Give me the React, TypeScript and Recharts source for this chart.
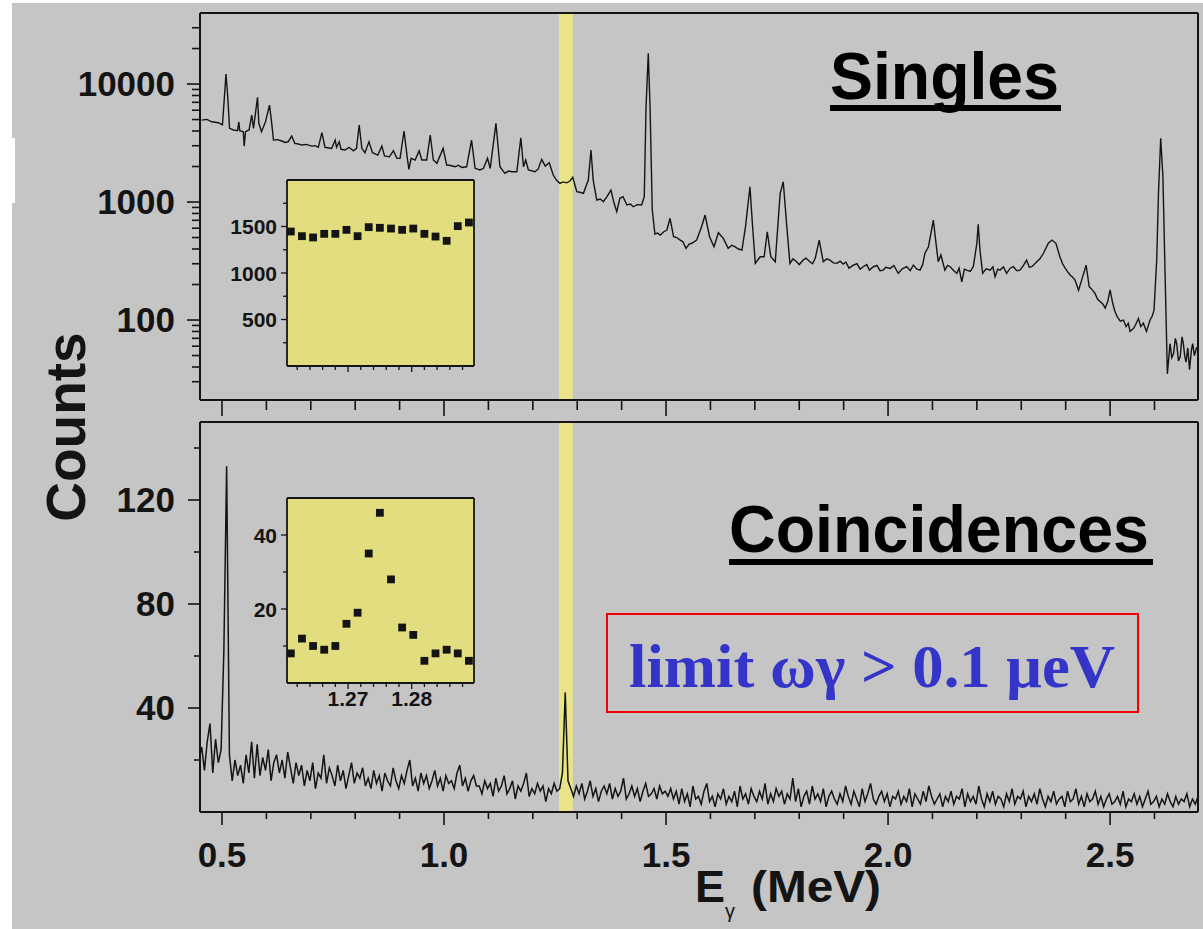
import React from 'react';
import {
  LineChart,
  Line,
  XAxis,
  YAxis,
  ReferenceArea,
  ScatterChart,
  Scatter,
  CartesianGrid,
} from 'recharts';

// ---------------- DATA ----------------
// Singles spectrum: [energy MeV, counts]
const singlesSpectrum: [number, number][] = [
  [0.454, 4950], [0.466, 5020], [0.477, 4790], [0.492, 4700], [0.501, 4500],
  [0.505, 7310], [0.509, 12150], [0.513, 7800], [0.517, 4215], [0.526, 4080],
  [0.535, 4030], [0.538, 4770], [0.54, 4030], [0.548, 3945], [0.55, 2980],
  [0.553, 3945], [0.561, 4080], [0.567, 5460], [0.571, 4215], [0.58, 7710],
  [0.583, 4645], [0.589, 3945], [0.598, 4790], [0.607, 6630], [0.612, 4645],
  [0.616, 3350], [0.625, 3380], [0.635, 3290], [0.642, 3200], [0.649, 3240],
  [0.657, 3625], [0.664, 3145], [0.672, 3100], [0.68, 3040], [0.69, 3080],
  [0.702, 2980], [0.71, 3000], [0.717, 2910], [0.725, 3870], [0.732, 2910],
  [0.747, 2850], [0.755, 3350], [0.758, 2910], [0.764, 3240], [0.768, 2800],
  [0.777, 2760], [0.786, 2910], [0.796, 2720], [0.803, 2850], [0.809, 4500],
  [0.815, 2850], [0.822, 2620], [0.831, 3240], [0.839, 2620], [0.851, 2500],
  [0.86, 2980], [0.866, 2455], [0.877, 2415], [0.886, 2720], [0.894, 2346],
  [0.901, 2346], [0.91, 4000], [0.917, 2415], [0.921, 1890], [0.926, 2346],
  [0.935, 2270], [0.944, 2720], [0.95, 2270], [0.961, 2270], [0.969, 3700],
  [0.976, 2270], [0.984, 2130], [0.998, 2850], [1.006, 2060], [1.015, 2040],
  [1.025, 1990], [1.032, 2050], [1.04, 1965], [1.051, 1990], [1.062, 3350],
  [1.07, 1930], [1.081, 1870], [1.089, 1930], [1.098, 2346], [1.104, 1930],
  [1.117, 4645], [1.126, 1990], [1.137, 1750], [1.145, 1830], [1.153, 1806],
  [1.164, 1806], [1.173, 3507], [1.179, 1990], [1.184, 2270], [1.19, 1870],
  [1.205, 1806], [1.212, 1900], [1.22, 2300], [1.228, 2018], [1.237, 2153],
  [1.246, 1694], [1.254, 1520], [1.261, 1440], [1.268, 1480], [1.276, 1455],
  [1.283, 1500], [1.29, 1620], [1.299, 1223], [1.306, 1210], [1.314, 1185],
  [1.325, 1536], [1.331, 2760], [1.336, 1536], [1.344, 1040], [1.352, 1060],
  [1.359, 1006], [1.367, 1109], [1.376, 1260], [1.383, 975], [1.389, 828],
  [1.396, 1075], [1.403, 1109], [1.412, 944], [1.42, 960], [1.426, 912],
  [1.435, 950], [1.445, 944], [1.451, 1109], [1.455, 6422], [1.46, 18200],
  [1.464, 6422], [1.469, 856], [1.475, 536], [1.481, 545], [1.487, 525],
  [1.495, 560], [1.502, 579], [1.509, 728], [1.517, 508], [1.524, 500],
  [1.532, 476], [1.538, 460], [1.545, 405], [1.552, 440], [1.558, 447],
  [1.569, 476], [1.58, 618], [1.588, 776], [1.598, 508], [1.608, 418],
  [1.618, 549], [1.629, 492], [1.64, 405], [1.648, 430], [1.655, 418],
  [1.663, 400], [1.671, 392], [1.679, 618], [1.689, 1348], [1.695, 618],
  [1.701, 302], [1.712, 344], [1.721, 344], [1.728, 560], [1.736, 344],
  [1.746, 312], [1.757, 1185], [1.764, 1486], [1.772, 618], [1.779, 302],
  [1.786, 330], [1.794, 312], [1.8, 295], [1.809, 322], [1.815, 335],
  [1.824, 312], [1.83, 300], [1.836, 333], [1.845, 476], [1.854, 312],
  [1.862, 330], [1.869, 322], [1.877, 305], [1.885, 302], [1.892, 315],
  [1.899, 298], [1.905, 310], [1.912, 275], [1.922, 292], [1.93, 300],
  [1.937, 270], [1.944, 283], [1.952, 295], [1.958, 265], [1.967, 283],
  [1.975, 290], [1.982, 262], [1.989, 265], [1.995, 280], [2.005, 274],
  [2.013, 290], [2.023, 249], [2.032, 272], [2.042, 283], [2.05, 262],
  [2.057, 292], [2.065, 270], [2.072, 265], [2.078, 295], [2.083, 368],
  [2.091, 418], [2.102, 704], [2.108, 447], [2.113, 312], [2.119, 356],
  [2.128, 265], [2.134, 290], [2.14, 283], [2.148, 262], [2.155, 249],
  [2.16, 275], [2.166, 211], [2.172, 270], [2.177, 265], [2.185, 258],
  [2.192, 283], [2.2, 447], [2.203, 647], [2.207, 392], [2.213, 249],
  [2.221, 272], [2.23, 265], [2.236, 282], [2.241, 233], [2.247, 270],
  [2.252, 265], [2.26, 282], [2.267, 249], [2.275, 275], [2.282, 283],
  [2.29, 262], [2.297, 265], [2.305, 290], [2.312, 322], [2.318, 280],
  [2.324, 283], [2.335, 312], [2.342, 330], [2.35, 368], [2.361, 447],
  [2.369, 476], [2.378, 447], [2.387, 344], [2.393, 300], [2.399, 274],
  [2.405, 255], [2.41, 241], [2.416, 230], [2.421, 218], [2.429, 179],
  [2.436, 218], [2.446, 292], [2.453, 192], [2.459, 182], [2.466, 168],
  [2.472, 150], [2.478, 143], [2.484, 136], [2.489, 126], [2.495, 145],
  [2.5, 180], [2.506, 138], [2.511, 118], [2.516, 107], [2.523, 98],
  [2.53, 100], [2.536, 88], [2.541, 94], [2.545, 80], [2.553, 85],
  [2.558, 92], [2.564, 103], [2.569, 88], [2.575, 94], [2.582, 80],
  [2.59, 100], [2.595, 108], [2.599, 122], [2.605, 322], [2.609, 1185],
  [2.614, 3466], [2.619, 1638], [2.624, 233], [2.629, 35], [2.635, 63],
  [2.639, 48], [2.643, 52], [2.647, 70], [2.65, 63], [2.654, 45],
  [2.658, 49], [2.662, 72], [2.665, 63], [2.668, 50], [2.671, 44],
  [2.675, 58], [2.679, 38], [2.683, 55], [2.686, 63], [2.69, 50],
  [2.695, 59],
];

// Coincidence spectrum: channel calibration and counts per channel
const coincStart = 0.448;
const coincStep = 0.00625;
const coincCounts: number[] = [
  20, 25, 16, 27, 34, 15, 28, 19, 24,
  62, 133, 22,
  12, 20, 14, 18, 11, 22, 15, 27, 13,
  26, 14, 21, 16, 24, 12, 19, 22, 15, 20, 13, 23, 17, 11, 19,
  14, 18, 10, 16, 12, 19, 9, 15, 13, 22, 11, 17, 14, 10, 18, 12, 16, 9, 14, 19, 11, 15, 13, 17, 10,
  13, 9, 16, 11, 14, 8, 15, 12, 10, 17, 12, 9, 14, 11, 16, 20, 10, 13, 8, 15,
  11, 14, 9, 12, 16, 10, 13, 8, 14, 11, 12, 9, 15, 18, 10, 13, 8, 12, 14, 10,
  10, 7, 12, 9, 11, 6, 13, 8, 10, 14, 7, 9, 12, 5, 10, 8, 11, 15, 6, 9, 7, 11, 8, 10, 4, 9, 7, 11, 8, 9,
  15, 46, 12,
  9, 6, 10, 7, 11, 5, 8, 12, 6, 9, 4, 8, 10, 7, 11, 5, 9, 6, 8, 13, 5, 7, 10, 6, 9, 4, 8, 11, 6, 7, 9, 5, 10, 7, 8, 6, 9,
  5, 8, 3, 9, 4, 7, 2, 10, 5, 6, 3, 8, 11, 4, 6, 2, 7, 5, 9, 3,
  6, 4, 8, 2, 10, 5, 7, 3, 9, 6, 4, 8, 5, 11, 3, 7, 4, 9, 6, 8,
  3, 7, 5, 13, 4, 9, 2, 6, 8, 3, 10, 5, 7, 4, 9, 2, 6, 8, 5, 3,
  7, 4, 10, 6, 3, 8, 5, 2, 9, 4, 7, 11, 5, 3, 6, 8, 4, 7, 2, 6,
  5, 8, 3, 6, 4, 9, 2, 7, 5, 3, 8, 4, 10, 6, 3, 5, 7, 2, 6, 4,
  8, 3, 6, 5, 9, 2, 7, 4, 6, 3, 10, 5, 2, 7, 4, 8, 3, 6, 5, 2,
  7, 4, 9, 3, 6, 5, 8, 2, 6, 4, 7, 3, 9, 5, 2, 6, 4, 8, 3, 5,
  6, 2, 8, 4, 5, 9, 3, 6, 2, 7, 4, 5, 8, 3, 6, 2, 5, 7, 3, 4,
  6, 3, 8, 2, 5, 4, 7, 3, 6, 2, 5, 8, 3, 4, 6, 2, 5, 3, 7, 4,
  2, 6, 3, 5, 4, 7, 2, 5, 3, 6,
];

// Insets (zoom on the 1.27 MeV window)
const insetEnergy = [1.261, 1.26275, 1.2645, 1.26625, 1.268, 1.26975, 1.2715, 1.27325, 1.275, 1.27675, 1.2785, 1.28025, 1.282, 1.28375, 1.2855, 1.28725, 1.289];
const insetSinglesCounts = [1446, 1396, 1382, 1421, 1421, 1464, 1396, 1493, 1486, 1478, 1464, 1478, 1421, 1392, 1346, 1504, 1543];
const insetCoincCounts = [8, 12, 10, 9, 10, 16, 19, 35, 46, 28, 15, 13, 6, 8, 9, 8, 6];

// Ticks
const energyTicks = [0.5, 0.6, 0.7, 0.8, 0.9, 1.0, 1.1, 1.2, 1.3, 1.4, 1.5, 1.6, 1.7, 1.8, 1.9, 2.0, 2.1, 2.2, 2.3, 2.4, 2.5, 2.6];
const energyMajor = [0.5, 1.0, 1.5, 2.0, 2.5];
const singlesTicks = [30, 40, 50, 60, 70, 80, 90, 100, 200, 300, 400, 500, 600, 700, 800, 900, 1000, 2000, 3000, 4000, 5000, 6000, 7000, 8000, 9000, 10000, 20000, 30000];
const singlesMajor = [100, 1000, 10000];
const coincTicks = [20, 40, 60, 80, 100, 120, 140];
const coincMajor = [40, 80, 120];
const insetETicks = [1.262, 1.264, 1.266, 1.268, 1.27, 1.272, 1.274, 1.276, 1.278, 1.28, 1.282, 1.284, 1.286, 1.288];
const insetEMajor = [1.27, 1.28];
const insetSinglesTicks = [250, 500, 750, 1000, 1250, 1500, 1750];
const insetSinglesMajor = [500, 1000, 1500];
const insetCoincTicks = [10, 20, 30, 40];
const insetCoincMajor = [20, 40];

// Domains / highlighted window
const energyDomain: [number, number] = [0.4505, 2.698];
const singlesDomain: [number, number] = [21, 40000];
const coincDomain: [number, number] = [0, 150];
const insetEDomain: [number, number] = [1.2604, 1.2898];
const insetSinglesDomain: [number, number] = [0, 2000];
const insetCoincDomain: [number, number] = [0, 50];
const windowLow = 1.259;
const windowHigh = 1.29;

// ---------------- STYLE ----------------
const FONT = '"Liberation Sans", Arial, Helvetica, sans-serif';
const INK = '#141414';
const BG = '#c5c5c5';
const BAND = '#e9e487';
const INSET_BG = '#e2dd7e';

type TickOpts = {
  side: 'left' | 'bottom';
  majors: number[];
  majorLen: number;
  minorLen: number;
  labels: boolean;
  fontSize?: number;
  gap?: number;
  shift?: number;
  sw?: number;
  fmt?: (v: number) => string;
};

function makeTick(o: TickOpts) {
  const isMajor = (v: number) => o.majors.some((m) => Math.abs(m - v) < 1e-6 * Math.max(1, Math.abs(m)));
  const sw = o.sw ?? 1.6;
  return (props: any) => {
    const x = Number(props.x);
    const y = Number(props.y);
    const v = Number(props.payload?.value);
    const major = isMajor(v);
    const len = major ? o.majorLen : o.minorLen;
    const label = o.labels && major ? (o.fmt ? o.fmt(v) : String(v)) : null;
    if (o.side === 'left') {
      return (
        <g>
          <line x1={x - len} x2={x} y1={y} y2={y} stroke={INK} strokeWidth={sw} />
          {label !== null && (
            <text x={x - (o.gap ?? 0)} y={y + (o.shift ?? 0)} textAnchor="end" fontFamily={FONT} fontWeight="bold" fontSize={o.fontSize} fill={INK}>
              {label}
            </text>
          )}
        </g>
      );
    }
    return (
      <g>
        <line x1={x} x2={x} y1={y} y2={y + len} stroke={INK} strokeWidth={sw} />
        {label !== null && (
          <text x={x} y={y + (o.gap ?? 0)} textAnchor="middle" fontFamily={FONT} fontWeight="bold" fontSize={o.fontSize} fill={INK}>
            {label}
          </text>
        )}
      </g>
    );
  };
}

const frameLine = { stroke: INK, strokeWidth: 2 };
const insetFrame = { stroke: INK, strokeWidth: 1.8 };

// ---------------- COMPONENTS ----------------
function SinglesPanel() {
  const rows = singlesSpectrum.map(([e, c]) => ({ e, c }));
  return (
    <div style={{ position: 'absolute', left: 0, top: 0 }}>
      <LineChart width={1203} height={420} data={rows} margin={{ top: 12, right: 4, bottom: 0, left: 0 }}>
        <XAxis xAxisId="top" orientation="top" type="number" dataKey="e" domain={energyDomain} allowDataOverflow height={1} tick={false} tickLine={false} axisLine={frameLine} />
        <YAxis yAxisId="right" orientation="right" type="number" domain={[0, 1]} width={1} tick={false} tickLine={false} axisLine={frameLine} />
        <XAxis
          xAxisId="x"
          type="number"
          dataKey="e"
          domain={energyDomain}
          allowDataOverflow
          ticks={energyTicks}
          interval={0}
          height={20}
          tickSize={0}
          tickMargin={0}
          tickLine={false}
          axisLine={frameLine}
          tick={makeTick({ side: 'bottom', majors: energyMajor, majorLen: 16, minorLen: 10, labels: false })}
        />
        <YAxis
          yAxisId="y"
          type="number"
          scale="log"
          domain={singlesDomain}
          allowDataOverflow
          ticks={singlesTicks}
          interval={0}
          width={200}
          tickSize={0}
          tickMargin={0}
          tickLine={false}
          axisLine={frameLine}
          tick={makeTick({ side: 'left', majors: singlesMajor, majorLen: 13, minorLen: 8, labels: true, fontSize: 35, gap: 25, shift: 12 })}
        />
        <ReferenceArea xAxisId="x" yAxisId="y" x1={windowLow} x2={windowHigh} fill={BAND} fillOpacity={1} stroke="none" />
        <Line xAxisId="x" yAxisId="y" type="linear" dataKey="c" stroke={INK} strokeWidth={1.4} dot={false} activeDot={false} isAnimationActive={false} />
      </LineChart>
    </div>
  );
}

function CoincPanel() {
  const rows = coincCounts.map((c, i) => ({ e: coincStart + i * coincStep, c }));
  return (
    <div style={{ position: 'absolute', left: 0, top: 0 }}>
      <LineChart width={1203} height={929} data={rows} margin={{ top: 421, right: 4, bottom: 37, left: 0 }}>
        <XAxis xAxisId="top" orientation="top" type="number" dataKey="e" domain={energyDomain} allowDataOverflow height={1} tick={false} tickLine={false} axisLine={frameLine} />
        <YAxis yAxisId="right" orientation="right" type="number" domain={[0, 1]} width={1} tick={false} tickLine={false} axisLine={frameLine} />
        <XAxis
          xAxisId="x"
          type="number"
          dataKey="e"
          domain={energyDomain}
          allowDataOverflow
          ticks={energyTicks}
          interval={0}
          height={80}
          tickSize={0}
          tickMargin={0}
          tickLine={false}
          axisLine={frameLine}
          tick={makeTick({ side: 'bottom', majors: energyMajor, majorLen: 13, minorLen: 7, labels: true, fontSize: 35, gap: 55, fmt: (v) => v.toFixed(1) })}
        />
        <YAxis
          yAxisId="y"
          type="number"
          domain={coincDomain}
          allowDataOverflow
          ticks={coincTicks}
          interval={0}
          width={200}
          tickSize={0}
          tickMargin={0}
          tickLine={false}
          axisLine={frameLine}
          tick={makeTick({ side: 'left', majors: coincMajor, majorLen: 12, minorLen: 6, labels: true, fontSize: 35, gap: 25, shift: 12 })}
        />
        <ReferenceArea xAxisId="x" yAxisId="y" x1={windowLow} x2={windowHigh} fill={BAND} fillOpacity={1} stroke="none" />
        <Line xAxisId="x" yAxisId="y" type="linear" dataKey="c" stroke={INK} strokeWidth={1.5} dot={false} activeDot={false} isAnimationActive={false} />
      </LineChart>
    </div>
  );
}

const squareShape = (p: any) => (
  <rect x={Number(p.cx) - 3.9} y={Number(p.cy) - 3.9} width={7.8} height={7.8} fill={INK} />
);

function Inset(props: {
  top: number;
  height: number;
  xHeight: number;
  counts: number[];
  yDomain: [number, number];
  yTicks: number[];
  yMajor: number[];
  xLabels: boolean;
}) {
  const rows = insetEnergy.map((e, i) => ({ e, c: props.counts[i] }));
  return (
    <div style={{ position: 'absolute', left: 227, top: props.top }}>
      <ScatterChart width={260} height={props.height} margin={{ top: 9, right: 12, bottom: 0, left: 0 }}>
        <CartesianGrid xAxisId="x" yAxisId="y" horizontal={false} vertical={false} fill={INSET_BG} fillOpacity={1} stroke="none" />
        <XAxis xAxisId="top" orientation="top" type="number" dataKey="e" domain={insetEDomain} allowDataOverflow height={1} tick={false} tickLine={false} axisLine={insetFrame} />
        <YAxis yAxisId="right" orientation="right" type="number" domain={[0, 1]} width={1} tick={false} tickLine={false} axisLine={insetFrame} />
        <XAxis
          xAxisId="x"
          type="number"
          dataKey="e"
          domain={insetEDomain}
          allowDataOverflow
          ticks={insetETicks}
          interval={0}
          height={props.xHeight}
          tickSize={0}
          tickMargin={0}
          tickLine={false}
          axisLine={insetFrame}
          tick={makeTick({ side: 'bottom', majors: insetEMajor, majorLen: 6, minorLen: 4, labels: props.xLabels, fontSize: 21, gap: 23, sw: 1.3, fmt: (v) => v.toFixed(2) })}
        />
        <YAxis
          yAxisId="y"
          type="number"
          dataKey="c"
          domain={props.yDomain}
          allowDataOverflow
          ticks={props.yTicks}
          interval={0}
          width={60}
          tickSize={0}
          tickMargin={0}
          tickLine={false}
          axisLine={insetFrame}
          tick={makeTick({ side: 'left', majors: props.yMajor, majorLen: 6, minorLen: 4, labels: true, fontSize: 21, gap: 10, shift: 7.5, sw: 1.3 })}
        />
        <Scatter xAxisId="x" yAxisId="y" data={rows} dataKey="c" fill={INK} shape={squareShape} isAnimationActive={false} />
      </ScatterChart>
    </div>
  );
}

function Overlay() {
  return (
    <svg width={1203} height={929} style={{ position: 'absolute', left: 0, top: 0, pointerEvents: 'none' }}>
      {/* Panel titles */}
      <text x={830} y={99} fontFamily={FONT} fontWeight="bold" fontSize={66} fill="#000" textLength={229} lengthAdjust="spacingAndGlyphs">Singles</text>
      <rect x={830} y={105} width={231} height={6} fill="#000" />
      <text x={729} y={552} fontFamily={FONT} fontWeight="bold" fontSize={66} fill="#000" textLength={420} lengthAdjust="spacingAndGlyphs">Coincidences</text>
      <rect x={729} y={559} width={424} height={6} fill="#000" />
      {/* Result box */}
      <rect x={607} y={614} width={531} height={98} fill="none" stroke="#f00000" strokeWidth={2} />
      <text x={629} y={687} fontFamily='"Liberation Serif", "Times New Roman", serif' fontWeight="bold" fontSize={62} fill="#3434c8" textLength={486} lengthAdjust="spacingAndGlyphs">limit ωγ &gt; 0.1 μeV</text>
      {/* Axis titles */}
      <text x={85} y={427} transform="rotate(-90 85 427)" textAnchor="middle" fontFamily={FONT} fontWeight="bold" fontSize={55} fill={INK}>Counts</text>
      <text x={695} y={902} fontFamily={FONT} fontWeight="bold" fontSize={45} fill={INK}>E</text>
      <text x={725} y={918} fontFamily={FONT} fontSize={20} fill={INK}>γ</text>
      <text x={751} y={902} fontFamily={FONT} fontWeight="bold" fontSize={45} fill={INK} textLength={130} lengthAdjust="spacingAndGlyphs">(MeV)</text>
    </svg>
  );
}

export default function App() {
  return (
    <div style={{ position: 'absolute', left: 0, top: 0, width: 1203, height: 929, background: '#ffffff', overflow: 'hidden' }}>
      <div style={{ position: 'absolute', left: 12, top: 3, width: 1191, height: 926, background: BG }} />
      <div style={{ position: 'absolute', left: 0, top: 138, width: 15, height: 65, background: '#ffffff' }} />
      <SinglesPanel />
      <CoincPanel />
      <Inset top={170} height={216} xHeight={20} counts={insetSinglesCounts} yDomain={insetSinglesDomain} yTicks={insetSinglesTicks} yMajor={insetSinglesMajor} xLabels={false} />
      <Inset top={488} height={235} xHeight={40} counts={insetCoincCounts} yDomain={insetCoincDomain} yTicks={insetCoincTicks} yMajor={insetCoincMajor} xLabels={true} />
      <Overlay />
    </div>
  );
}
